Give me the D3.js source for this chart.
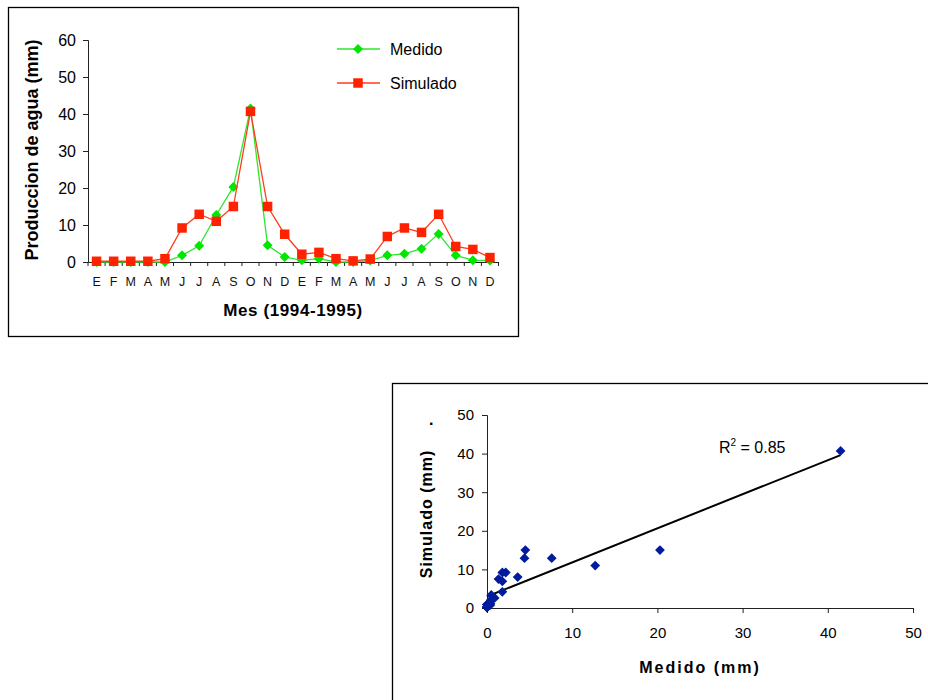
<!DOCTYPE html>
<html>
<head>
<meta charset="utf-8">
<script src="https://cdn.jsdelivr.net/npm/d3@7"></script>
<style>
  body { margin: 0; background: #fff; }
  svg { font-family: "Liberation Sans", Arial, sans-serif; }
</style>
</head>
<body>
<svg id="chart" width="928" height="700"></svg>
<script>
// monthly values, Jan 1994 .. Dec 1995
const months = ["E","F","M","A","M","J","J","A","S","O","N","D",
                "E","F","M","A","M","J","J","A","S","O","N","D"];
const medido = [0, 0, 0, 0, 0, 1.8, 4.4, 12.7, 20.3, 41.5, 4.5, 1.35,
                0.45, 0.9, 0, 0, 0.4, 1.8, 2.2, 3.6, 7.6, 1.8, 0.5, 0.4];
const simulado = [0.2, 0.2, 0.2, 0.2, 0.9, 9.2, 12.9, 11, 15, 40.7, 15, 7.5,
                  2.1, 2.6, 0.9, 0.3, 0.8, 6.9, 9.2, 8, 12.9, 4.2, 3.4, 1.2];
const yTicksTop = [0, 10, 20, 30, 40, 50, 60];
const scatterTicks = [0, 10, 20, 30, 40, 50];
const r2Label = "0.85";

const svg = d3.select("#chart");
svg.append("rect").attr("width", 928).attr("height", 700).attr("fill", "#fff");

function lineChart() {
    // frame
    svg.append("rect")
        .attr("x", 8.5).attr("y", 7.5)
        .attr("width", 510).attr("height", 329)
        .attr("fill", "none").attr("stroke", "#000").attr("stroke-width", 1.3);

    const x = d3.scaleBand()
        .domain(d3.range(months.length))
        .range([88, 498.5]);
    const y = d3.scaleLinear().domain([0, 60]).range([262, 40]);

    // y axis
    const yAxis = svg.append("g")
        .attr("transform", "translate(88,0)")
        .call(d3.axisLeft(y).tickValues(yTicksTop).tickSize(5).tickPadding(7));
    yAxis.selectAll("text").attr("font-size", 16).attr("fill", "#000");
    yAxis.selectAll("line, path").attr("stroke", "#222");

    // x axis: labels in band centres, ticks on band edges
    const xAxis = svg.append("g")
        .attr("transform", "translate(0,262)")
        .call(d3.axisBottom(x).tickSize(0).tickPadding(15).tickFormat(i => months[i]));
    xAxis.selectAll("text").attr("font-size", 12.5).attr("fill", "#111");
    xAxis.select("path").attr("stroke", "#222");
    xAxis.selectAll("line.edge")
        .data(d3.range(months.length + 1))
        .join("line")
        .attr("class", "edge")
        .attr("x1", i => 88 + i * x.bandwidth())
        .attr("x2", i => 88 + i * x.bandwidth())
        .attr("y1", 0).attr("y2", 4)
        .attr("stroke", "#222");

    const series = [
        { name: "Medido", values: medido, line: "#2ee62e", fill: "#00e600",
          symbol: d3.symbol(d3.symbolSquare, 50), rot: 45 },
        { name: "Simulado", values: simulado, line: "#ff3b1a", fill: "#ff2200",
          symbol: d3.symbol(d3.symbolSquare, 90), rot: 0 }
    ];

    const line = d3.line()
        .x((d, i) => x(i) + x.bandwidth() / 2)
        .y(d => y(d));

    series.forEach(s => {
        svg.append("path")
            .datum(s.values)
            .attr("d", line)
            .attr("fill", "none")
            .attr("stroke", s.line)
            .attr("stroke-width", 1.3);
        svg.append("g").selectAll("path")
            .data(s.values)
            .join("path")
            .attr("d", s.symbol)
            .attr("transform", (d, i) =>
                `translate(${x(i) + x.bandwidth() / 2},${y(d)}) rotate(${s.rot})`)
            .attr("fill", s.fill);
    });

    // legend
    const legend = svg.append("g");
    series.forEach((s, i) => {
        const ly = 49 + i * 34;
        legend.append("line")
            .attr("x1", 337).attr("x2", 380).attr("y1", ly).attr("y2", ly)
            .attr("stroke", s.line).attr("stroke-width", 1.3);
        legend.append("path")
            .attr("d", s.symbol)
            .attr("transform", `translate(358,${ly}) rotate(${s.rot})`)
            .attr("fill", s.fill);
        legend.append("text")
            .attr("x", 390).attr("y", ly + 6)
            .attr("font-size", 16)
            .text(s.name);
    });

    // titles
    svg.append("text")
        .text("Produccion de agua (mm)")
        .attr("font-size", 18).attr("font-weight", "bold")
        .attr("text-anchor", "middle")
        .attr("transform", "translate(38,150) rotate(-90)");
    svg.append("text")
        .text("Mes (1994-1995)")
        .attr("x", 293).attr("y", 316)
        .attr("font-size", 17).attr("font-weight", "bold")
        .attr("letter-spacing", 0.6)
        .attr("text-anchor", "middle");
}

function scatterChart() {
    svg.append("rect")
        .attr("x", 392.5).attr("y", 383.5)
        .attr("width", 600).attr("height", 400)
        .attr("fill", "none").attr("stroke", "#000").attr("stroke-width", 1.3);

    const x = d3.scaleLinear().domain([0, 50]).range([487, 913]);
    const y = d3.scaleLinear().domain([0, 50]).range([608, 415]);

    const xAxis = svg.append("g")
        .attr("transform", "translate(0,608)")
        .call(d3.axisBottom(x).tickValues(scatterTicks).tickSize(5).tickPadding(14));
    xAxis.selectAll("text").attr("font-size", 15).attr("fill", "#000");
    xAxis.selectAll("line, path").attr("stroke", "#222");

    const yAxis = svg.append("g")
        .attr("transform", "translate(487,0)")
        .call(d3.axisLeft(y).tickValues(scatterTicks).tickSize(5).tickPadding(8));
    yAxis.selectAll("text").attr("font-size", 15).attr("fill", "#000");
    yAxis.selectAll("line, path").attr("stroke", "#222");

    const points = medido.map((m, i) => ({ m: m, s: simulado[i] }));

    // least squares trend line
    const mx = d3.mean(points, d => d.m);
    const my = d3.mean(points, d => d.s);
    const slope = d3.sum(points, d => (d.m - mx) * (d.s - my)) /
                  d3.sum(points, d => (d.m - mx) * (d.m - mx));
    const intercept = my - slope * mx;
    const xMax = d3.max(points, d => d.m);

    svg.append("line")
        .attr("x1", x(0)).attr("y1", y(intercept))
        .attr("x2", x(xMax)).attr("y2", y(intercept + slope * xMax))
        .attr("stroke", "#000").attr("stroke-width", 2);

    svg.append("g").selectAll("path")
        .data(points)
        .join("path")
        .attr("d", d3.symbol(d3.symbolSquare, 48))
        .attr("transform", d => `translate(${x(d.m)},${y(d.s)}) rotate(45)`)
        .attr("fill", "#001b9c");

    const r2 = svg.append("text")
        .attr("x", 719).attr("y", 452.5)
        .attr("font-size", 16);
    r2.append("tspan").text("R");
    r2.append("tspan").text("2").attr("font-size", 10).attr("dy", -7);
    r2.append("tspan").text(" = " + r2Label).attr("dy", 7);

    svg.append("text")
        .text("Medido (mm)")
        .attr("x", 700).attr("y", 673)
        .attr("font-size", 16).attr("font-weight", "bold")
        .attr("letter-spacing", 2)
        .attr("text-anchor", "middle");
    svg.append("text")
        .text("Simulado (mm)")
        .attr("font-size", 16).attr("font-weight", "bold")
        .attr("letter-spacing", 1)
        .attr("text-anchor", "middle")
        .attr("transform", "translate(432,514) rotate(-90)");
    svg.append("text")
        .text(".")
        .attr("x", 429).attr("y", 425)
        .attr("font-size", 16).attr("font-weight", "bold");
}

lineChart();
scatterChart();
</script>
</body>
</html>
